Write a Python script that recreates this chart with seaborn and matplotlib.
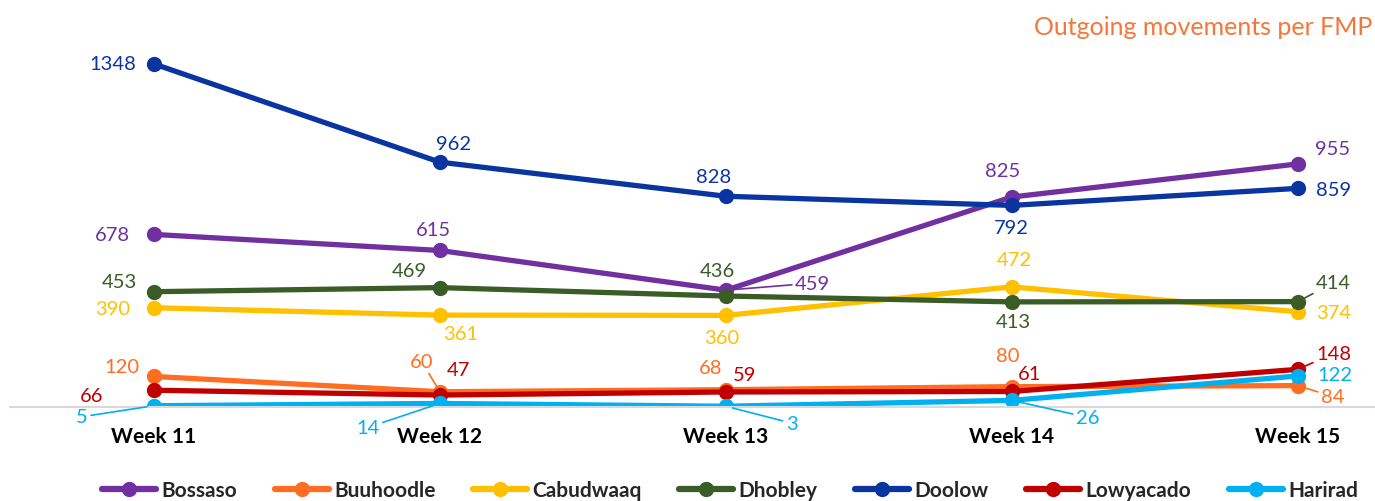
import matplotlib.pyplot as plt
import numpy as np
import pandas as pd
import seaborn as sns

weeks = ["Week 11", "Week 12", "Week 13", "Week 14", "Week 15"]
sites = ["Bossaso", "Buuhoodle", "Cabudwaaq", "Dhobley", "Doolow", "Lowyacado", "Harirad"]

bossaso = [678, 615, 459, 825, 955]
buuhoodle = [120, 60, 68, 80, 84]
cabudwaaq = [390, 361, 360, 472, 374]
dhobley = [453, 469, 436, 413, 414]
doolow = [1348, 962, 828, 792, 859]
lowyacado = [66, 47, 59, 61, 148]
harirad = [5, 14, 3, 26, 122]

colors = ["#7030A0", "#FF6D22", "#FFC000", "#3A5C26", "#0A34A0", "#C00000", "#00B0F0"]

# label offsets in pixels (dx, dy) from each point; "L" marks a leader line
label_offsets = {
    "Bossaso": [(-41, 0), (-6, 21), (87, 7, "L"), (-9, 27), (35, 15)],
    "Buuhoodle": [(-32, 10), (-18, 30, "L"), (-15, 22), (-4, 31), (35, -11, "L")],
    "Cabudwaaq": [(-41, -1), (21, -18), (-4, -22), (3, 27), (36, -1)],
    "Dhobley": [(-34, 10), (-31, 17), (-8, 26), (2, -20), (36, 19, "L")],
    "Doolow": [(-41, 0), (14, 19), (-12, 20), (0, -22), (36, -1)],
    "Lowyacado": [(-62, -5), (19, 26), (19, 17), (18, 18), (36, 16, "L")],
    "Harirad": [(-72, -11, "L"), (-72, -24, "L"), (66, -17, "L"), (76, -17, "L"), (37, 1)],
}

series = [bossaso, buuhoodle, cabudwaaq, dhobley, doolow, lowyacado, harirad]
df = pd.DataFrame({
    "week": np.tile(weeks, len(sites)),
    "x": np.tile(np.arange(len(weeks)), len(sites)),
    "site": np.repeat(sites, len(weeks)),
    "value": np.concatenate(series),
})

sns.set_theme(style="white")
plt.rcParams["font.family"] = ["Lato", "DejaVu Sans"]

fig = plt.figure(figsize=(13.75, 5.02), dpi=100)
ax = fig.add_axes([10 / 1375, 94 / 502, 1365 / 1375, 408 / 502])

sns.lineplot(
    data=df, x="x", y="value", hue="site", hue_order=sites,
    palette=colors, marker="o", markersize=11, markeredgewidth=0,
    linewidth=3.8, ax=ax, legend=True,
)

ax.set_xlim(-0.503, 4.27)
ax.set_ylim(0, 1603)
ax.set_xticks(range(len(weeks)))
ax.set_xticklabels(weeks, fontsize=15, fontweight="bold", color="black")
ax.tick_params(axis="x", length=0, pad=14)
ax.set_yticks([])
ax.set_xlabel("")
ax.set_ylabel("")
for s in ["top", "left", "right"]:
    ax.spines[s].set_visible(False)
ax.spines["bottom"].set_color("#D9D9D9")
ax.spines["bottom"].set_linewidth(1.5)

# data labels
for site, vals, col in zip(sites, series, colors):
    for i, v in enumerate(vals):
        off = label_offsets[site][i]
        dx, dy = off[0] * 0.72, off[1] * 0.72
        props = None
        if len(off) > 2:
            props = dict(arrowstyle="-", color=col, lw=1.2, shrinkA=0, shrinkB=5)
        ax.annotate(
            str(v), xy=(i, v), xytext=(dx, dy), textcoords="offset points",
            ha="center", va="center", fontsize=14.5, color=col,
            arrowprops=props, annotation_clip=False,
        )

handles, labels = ax.get_legend_handles_labels()
ax.get_legend().remove()
leg = fig.legend(
    handles, labels, loc="center", bbox_to_anchor=(730 / 1375, 11 / 502),
    ncol=7, frameon=False, handlelength=2.6, columnspacing=1.8, handletextpad=0.25,
    prop={"weight": "bold", "size": 15},
)
for h in leg.legend_handles:
    h.set_linewidth(4.5)
    h.set_markersize(11)

fig.text(0.998, 0.945, "Outgoing movements per FMP", ha="right", va="center",
         fontsize=18, color="#F4773A")

fig.savefig("out.png", dpi=100)
